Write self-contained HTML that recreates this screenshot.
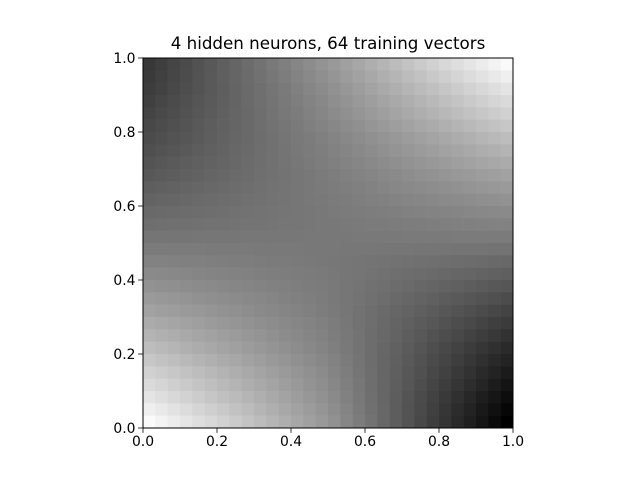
<!DOCTYPE html>
<html><head><meta charset="utf-8"><style>
html,body{margin:0;padding:0;background:#fff;}
svg text{font-family:"DejaVu Sans","Liberation Sans",sans-serif;fill:#000;}
</style></head><body>
<svg id="chart" width="640" height="480" viewBox="0 0 640 480" xmlns="http://www.w3.org/2000/svg">
<rect width="640" height="480" fill="#fff"/>
<text x="328" y="49" text-anchor="middle" font-size="16.7">4 hidden neurons, 64 training vectors</text>
<g id="cells"></g>
<rect x="143" y="58" width="370" height="370" fill="none" stroke="#000" stroke-width="1"/>
<g id="axes"></g>
</svg>
<script>
// gray levels 0-255, rows from top (y=1) to bottom (y=0), columns left (x=0) to right (x=1)
const rows = [
[56,62,69,75,82,88,95,101,108,114,121,127,134,140,147,153,160,167,174,181,188,195,202,209,216,222,229,236,243,250],
[58,64,70,76,83,89,95,101,107,113,119,125,131,137,143,149,156,162,168,175,181,188,194,201,207,213,220,226,233,239],
[61,66,72,78,83,89,94,100,106,111,117,122,128,134,139,145,151,157,163,169,175,181,187,192,198,204,210,216,222,228],
[64,70,75,80,85,90,95,100,106,111,116,121,126,131,136,142,147,153,158,164,169,174,180,185,191,196,202,207,213,218],
[68,73,77,82,87,91,96,101,105,110,115,120,124,129,134,139,144,149,154,159,164,169,174,179,184,189,194,199,204,209],
[72,76,80,84,89,93,97,101,105,110,114,118,122,127,131,135,140,144,149,153,158,162,167,171,176,180,185,190,194,199],
[75,79,83,86,90,94,98,102,105,109,113,117,121,124,128,132,136,140,144,148,152,156,160,164,168,172,176,181,185,189],
[79,83,86,89,93,96,99,103,106,110,113,116,120,123,126,130,133,137,140,144,148,151,155,158,162,165,169,173,176,180],
[84,87,90,93,96,98,101,104,107,110,113,116,119,122,125,128,131,134,137,140,143,146,149,152,155,159,162,165,168,171],
[88,91,93,96,98,101,103,106,108,111,113,115,118,120,123,125,128,131,133,136,138,141,144,146,149,152,154,157,159,162],
[94,96,98,100,102,104,106,108,110,112,114,116,118,120,122,124,126,128,130,133,135,137,139,141,143,145,148,150,152,154],
[99,101,102,104,106,107,109,110,112,113,115,116,118,120,121,123,124,126,128,129,131,133,134,136,138,139,141,143,144,146],
[105,106,107,108,109,110,111,113,114,115,116,117,118,119,120,122,123,124,125,126,127,129,130,131,132,133,135,136,137,138],
[110,111,112,112,113,114,114,115,116,116,117,118,118,119,120,120,121,122,123,123,124,125,125,126,127,128,128,129,130,130],
[117,117,117,117,118,118,118,118,119,119,119,119,119,120,120,120,120,121,121,121,121,122,122,122,122,123,123,123,123,123],
[123,123,123,123,123,122,122,122,122,121,121,121,121,120,120,120,119,119,119,118,118,118,117,117,117,116,116,116,115,115],
[130,130,129,128,128,127,126,125,125,124,123,123,122,121,120,119,118,117,116,115,114,113,112,111,110,109,108,107,105,104],
[138,137,136,135,133,132,131,130,129,127,126,125,124,123,122,120,118,117,115,113,111,109,108,106,104,102,101,99,97,95],
[146,144,143,141,139,138,136,134,133,131,129,128,126,124,123,121,118,116,113,111,108,106,103,101,98,96,93,91,88,86],
[154,152,150,148,145,143,141,139,137,135,133,130,128,126,124,121,118,115,112,109,105,102,99,96,92,89,86,83,80,76],
[162,159,157,154,152,149,146,144,141,138,136,133,131,128,125,122,118,114,110,106,102,99,95,91,87,83,79,75,71,67],
[171,168,165,162,159,155,152,149,146,143,140,137,134,131,128,124,119,114,110,105,100,96,91,87,82,77,73,68,63,59],
[180,176,173,169,165,162,158,155,151,148,144,140,137,133,130,125,120,115,109,104,99,93,88,82,77,72,66,61,56,50],
[189,185,181,176,172,168,164,160,156,152,148,144,140,136,132,127,121,115,109,103,97,91,85,78,72,66,60,54,48,42],
[199,194,190,185,180,176,171,167,162,158,153,149,144,140,135,130,123,116,109,102,96,89,82,75,69,62,55,48,41,35],
[209,204,199,194,189,184,179,174,169,164,159,154,149,144,139,132,125,117,110,102,95,87,80,72,65,57,50,42,35,27],
[218,213,207,202,196,191,185,180,174,169,164,158,153,147,142,135,127,119,110,102,94,86,78,69,61,53,45,37,28,20],
[228,222,216,210,204,198,192,187,181,175,169,163,157,151,145,138,129,120,111,102,93,84,75,66,57,48,39,30,22,13],
[239,233,226,220,213,207,201,194,188,181,175,168,162,156,149,141,132,122,112,103,93,83,74,64,54,44,35,25,16,6],
[250,243,236,229,222,216,209,202,195,188,181,174,167,160,153,145,134,124,114,103,93,83,72,62,52,41,31,21,10,0]
];
const xTicks = [0.0, 0.2, 0.4, 0.6, 0.8, 1.0];
const yTicks = [0.0, 0.2, 0.4, 0.6, 0.8, 1.0];
const xTickLabels = ["0.0","0.2","0.4","0.6","0.8","1.0"];
const yTickLabels = ["0.0","0.2","0.4","0.6","0.8","1.0"];

const X0 = 143, X1 = 513, Y0 = 428, Y1 = 58;
function sx(v){ return X0 + v*(X1-X0); }
function sy(v){ return Y0 - v*(Y0-Y1); }
const NS = "http://www.w3.org/2000/svg";
const cells = document.getElementById('cells');
const nR = rows.length;
rows.forEach((row, r) => {
  const nC = row.length;
  for (let c = 0; c < nC; c++) {
    const g = Math.max(0, Math.min(255, Math.round(row[c])));
    const x0 = sx(c/nC), x1 = sx((c+1)/nC);
    const yTop = sy(1 - r/nR), yBot = sy(1 - (r+1)/nR);
    const el = document.createElementNS(NS, 'rect');
    
    
    el.setAttribute('x', x0);
    el.setAttribute('y', yTop);
    el.setAttribute('width', x1 - x0 + 0.3);
    el.setAttribute('height', yBot - yTop + 0.3);
    el.setAttribute('fill', `rgb(${g},${g},${g})`);
    cells.appendChild(el);
  }
});
const axes = document.getElementById('axes');
xTicks.forEach((t, i) => {
  const x = sx(t);
  const ln = document.createElementNS(NS, 'line');
  
  
  ln.setAttribute('x1', x); ln.setAttribute('x2', x);
  ln.setAttribute('y1', Y0); ln.setAttribute('y2', Y0 + 4.9);
  ln.setAttribute('stroke', '#000'); ln.setAttribute('stroke-width', '0.8');
  axes.appendChild(ln);
  const tx = document.createElementNS(NS, 'text');
  
  
  tx.setAttribute('x', x); tx.setAttribute('y', Y0 + 18);
  tx.setAttribute('text-anchor', 'middle'); tx.setAttribute('font-size', '13.9');
  tx.textContent = xTickLabels[i];
  axes.appendChild(tx);
});
yTicks.forEach((t, i) => {
  const y = sy(t);
  const ln = document.createElementNS(NS, 'line');
  
  
  ln.setAttribute('x1', X0 - 4.9); ln.setAttribute('x2', X0);
  ln.setAttribute('y1', y); ln.setAttribute('y2', y);
  ln.setAttribute('stroke', '#000'); ln.setAttribute('stroke-width', '0.8');
  axes.appendChild(ln);
  const tx = document.createElementNS(NS, 'text');
  
  
  tx.setAttribute('x', X0 - 7.5); tx.setAttribute('y', y + 5);
  tx.setAttribute('text-anchor', 'end'); tx.setAttribute('font-size', '13.9');
  tx.textContent = yTickLabels[i];
  axes.appendChild(tx);
});
</script>
</body></html>
